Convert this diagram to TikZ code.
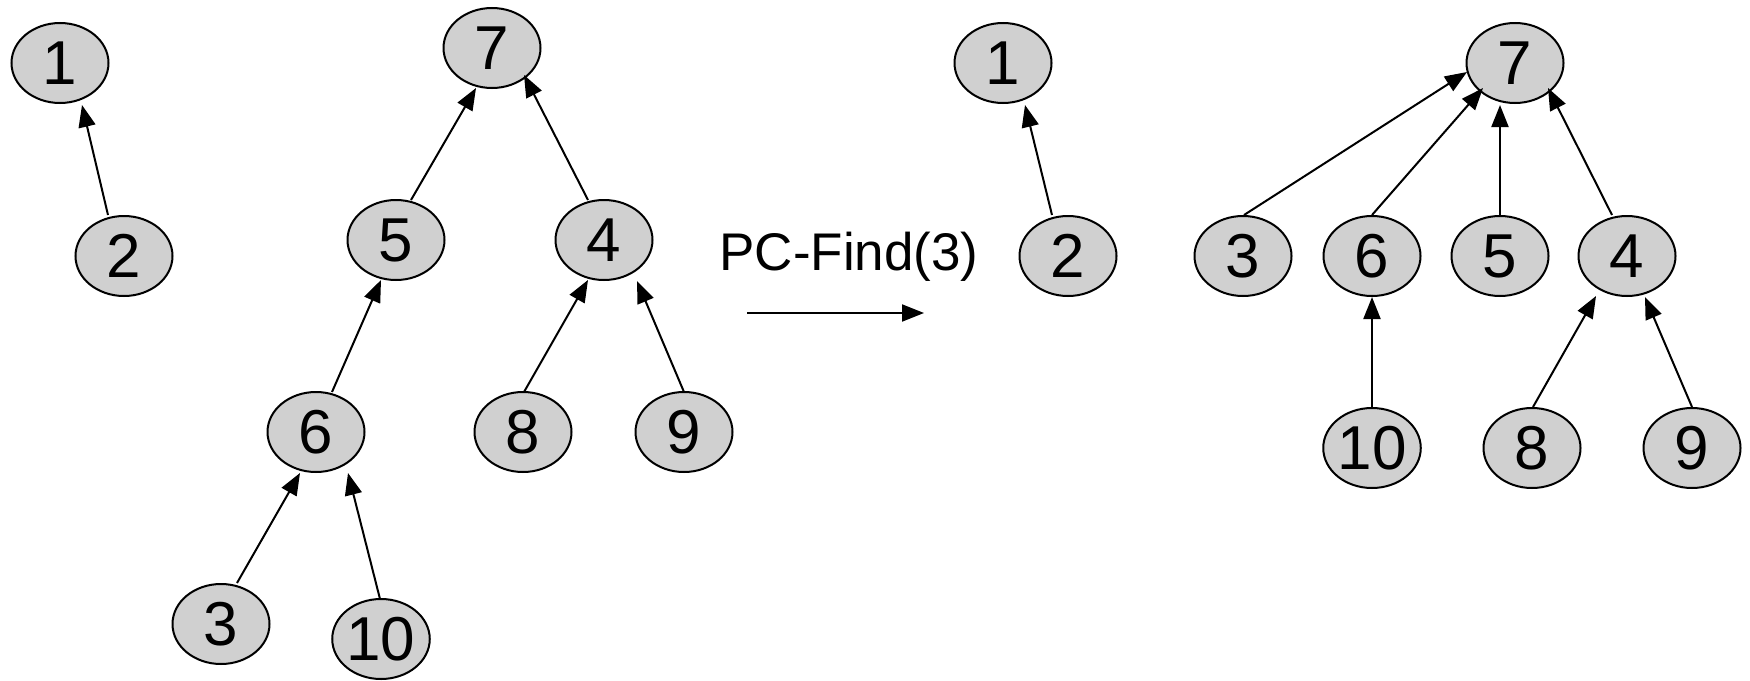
\documentclass[tikz,border=0pt]{standalone}
\usepackage{fontspec}
\setmainfont{Liberation Sans}
\usetikzlibrary{arrows.meta,shapes.geometric,calc}
\definecolor{nodefill}{RGB}{208,208,208}
\begin{document}
\begin{tikzpicture}[x=1pt,y=-1pt,
  vnode/.style={ellipse,draw=black,fill=nodefill,line width=2pt,minimum width=97pt,minimum height=80pt,inner sep=0pt,font=\fontsize{62}{62}\selectfont},
  link/.style={line width=2pt,-{Triangle[length=22pt,width=17pt]}},
  lbl/.style={inner sep=0pt,font=\fontsize{53}{53}\selectfont}]
\useasboundingbox (0,0) rectangle (1750,680);
% left forest
\node[vnode] (L1) at (60,63) {1};
\node[vnode] (L2) at (124,256) {2};
\node[vnode] (L7) at (492,48) {7};
\node[vnode] (L5) at (396,240) {5};
\node[vnode] (L4) at (604,240) {4};
\node[vnode] (L6) at (316,432) {6};
\node[vnode] (L8) at (523,432) {8};
\node[vnode] (L9) at (684,432) {9};
\node[vnode] (L3) at (221,624) {3};
\node[vnode] (L10) at (381,639) {10};
\draw[link] ($(L2)+(-16,-41)$) -- ($(L1)+(22,42)$);
\draw[link] ($(L5)+(15,-40)$) -- ($(L7)+(-16,40)$);
\draw[link] ($(L4)+(-16,-40)$) -- ($(L7)+(32,27)$);
\draw[link] ($(L6)+(16,-40)$) -- ($(L5)+(-15,40)$);
\draw[link] ($(L8)+(1,-40)$) -- ($(L4)+(-16,40)$);
\draw[link] ($(L9)+(0,-40)$) -- ($(L4)+(33,41)$);
\draw[link] ($(L3)+(16,-41)$) -- ($(L6)+(-16,41)$);
\draw[link] ($(L10)+(-1,-40)$) -- ($(L6)+(32,41)$);
% operation
\node[lbl] (T) at (849,257) {PC-Find(3)};
\coordinate (a1) at (747,313);
\coordinate (a2) at (924,313);
\draw[link] (a1) -- (a2);
% right forest
\node[vnode] (R1) at (1003,63) {1};
\node[vnode] (R2) at (1068,256) {2};
\node[vnode] (R7) at (1515,63) {7};
\node[vnode] (R3) at (1243,256) {3};
\node[vnode] (R6) at (1372,256) {6};
\node[vnode] (R5) at (1500,256) {5};
\node[vnode] (R4) at (1627,256) {4};
\node[vnode] (R10) at (1372,448) {10};
\node[vnode] (R8) at (1532,448) {8};
\node[vnode] (R9) at (1692,448) {9};
\draw[link] ($(R2)+(-16,-41)$) -- ($(R1)+(22,42)$);
\draw[link] ($(R3)+(1,-41)$) -- ($(R7)+(-48,9)$);
\draw[link] ($(R6)+(0,-41)$) -- ($(R7)+(-32,25)$);
\draw[link] ($(R5)+(0,-41)$) -- ($(R7)+(-15,42)$);
\draw[link] ($(R4)+(-15,-41)$) -- ($(R7)+(33,25)$);
\draw[link] ($(R10)+(0,-41)$) -- ($(R6)+(0,41)$);
\draw[link] ($(R8)+(1,-41)$) -- ($(R4)+(-31,40)$);
\draw[link] ($(R9)+(0,-41)$) -- ($(R4)+(18,41)$);
\end{tikzpicture}
\end{document}
